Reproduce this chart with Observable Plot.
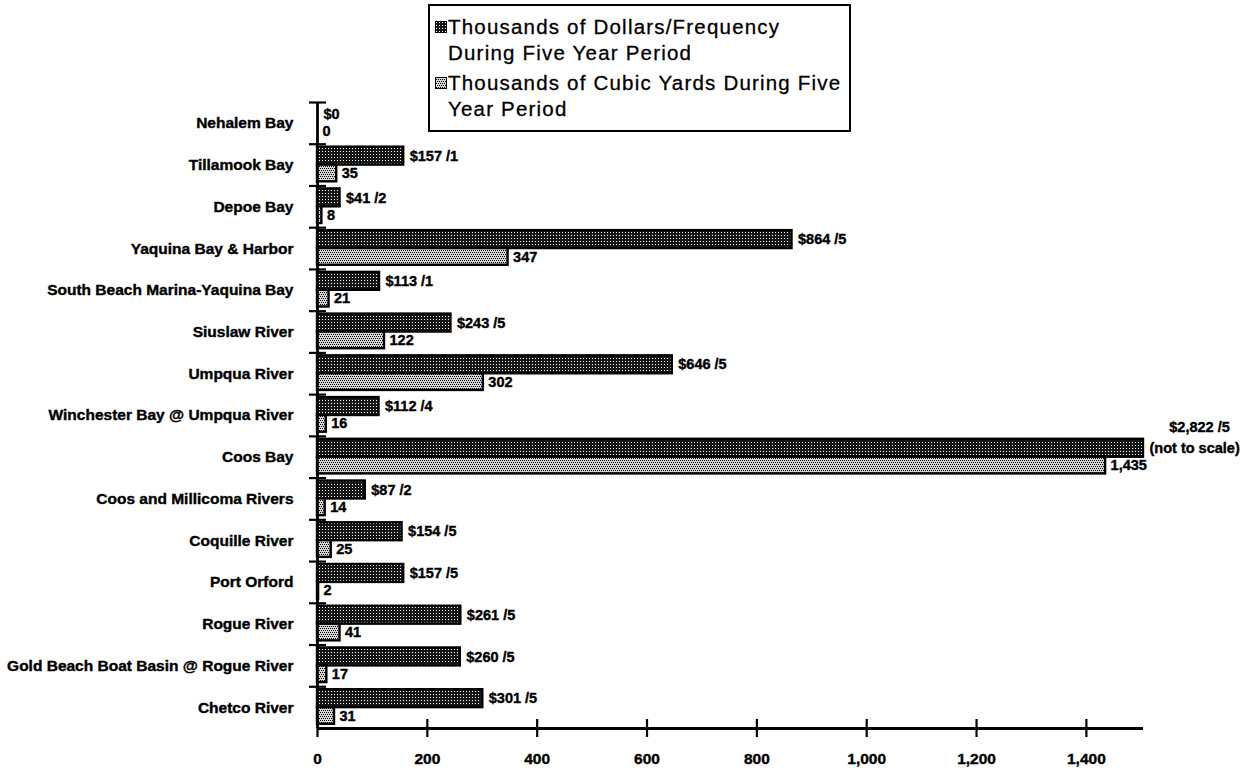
<!DOCTYPE html>
<html>
<head>
<meta charset="utf-8">
<script src="https://cdn.jsdelivr.net/npm/d3@7"></script>
<script src="https://cdn.jsdelivr.net/npm/@observablehq/plot@0.6"></script>
<style>
  html, body { margin: 0; padding: 0; background: #fff; }
  #wrap { position: relative; width: 1256px; height: 776px; overflow: hidden; font-family: "Liberation Sans", Arial, sans-serif; }
  #legend { position: absolute; left: 428px; top: 4px; width: 419px; height: 124px; border: 2px solid #000; background: #fff; box-sizing: content-box; }
  .item { position: absolute; left: 18px; font-size: 20.5px; letter-spacing: 1.2px; line-height: 26px; color: #000; white-space: nowrap; -webkit-text-stroke: 0.3px #000; }
  .sw { position: absolute; left: 5px; width: 12px; height: 12px; }
</style>
</head>
<body>
<svg width="0" height="0" style="position:absolute">
  <defs>
    <pattern id="pDark" width="3" height="3" patternUnits="userSpaceOnUse">
      <rect width="3" height="3" fill="#161616"></rect>
      <rect x="1" y="1" width="1" height="1" fill="#ffffff"></rect>
    </pattern>
    <pattern id="pLight" width="4" height="4" patternUnits="userSpaceOnUse">
      <rect width="4" height="4" fill="#d6d6d6"></rect>
      <rect x="0" y="0" width="1" height="1" fill="#000"></rect>
      <rect x="2" y="0" width="1" height="1" fill="#000"></rect>
      <rect x="1" y="2" width="1" height="1" fill="#000"></rect>
      <rect x="3" y="2" width="1" height="1" fill="#000"></rect>
    </pattern>
  </defs>
</svg>
<div id="wrap">
  <div id="chart"></div>
  <div id="legend">
    <svg class="sw" style="top:15px" viewBox="0 0 12 12"><rect x="0.5" y="0.5" width="11" height="11" fill="url(#pDark)" stroke="#000" stroke-width="1"></rect></svg>
    <div class="item" style="top:8px">Thousands of Dollars/Frequency<br>During Five Year Period</div>
    <svg class="sw" style="top:71px" viewBox="0 0 12 12"><rect x="0.5" y="0.5" width="11" height="11" fill="url(#pLight)" stroke="#000" stroke-width="1"></rect></svg>
    <div class="item" style="top:64px">Thousands of Cubic Yards During Five<br>Year Period</div>
  </div>
</div>
<script>
const categories = [
  "Nehalem Bay", "Tillamook Bay", "Depoe Bay", "Yaquina Bay & Harbor",
  "South Beach Marina-Yaquina Bay", "Siuslaw River", "Umpqua River",
  "Winchester Bay @ Umpqua River", "Coos Bay", "Coos and Millicoma Rivers",
  "Coquille River", "Port Orford", "Rogue River",
  "Gold Beach Boat Basin @ Rogue River", "Chetco River"
];
const dollars    = [0, 157, 41, 864, 113, 243, 646, 112, 2822, 87, 154, 157, 261, 260, 301];
const frequency  = [null, 1, 2, 5, 1, 5, 5, 4, 5, 2, 5, 5, 5, 5, 5];
const cubicYards = [0, 35, 8, 347, 21, 122, 302, 16, 1435, 14, 25, 2, 41, 17, 31];
const xTicks = [0, 200, 400, 600, 800, 1000, 1200, 1400];
const xMax = 1504;
const notToScale = "(not to scale)";

const fmt = d3.format(",");
const rows = categories.map((c, i) => ({i, c, d: dollars[i], f: frequency[i], v: cubicYards[i]}));
const inScale = rows.filter(r => r.d <= xMax);
const overScale = rows.filter(r => r.d > xMax);
const darkLabel = r => r.f == null ? "$" + fmt(r.d) : "$" + fmt(r.d) + " /" + r.f;
const bounds = d3.range(0, categories.length);

const FONT = "Liberation Sans, Arial, sans-serif";
const LS = 14.5;
const heavy = {fontWeight: "bold", fill: "#000", stroke: "#000", strokeWidth: 0.4};

const chart = Plot.plot({
  width: 1256,
  height: 776,
  marginTop: 102,
  marginBottom: 48,
  marginLeft: 317,
  marginRight: 113,
  style: {fontFamily: FONT, background: "transparent"},
  x: {domain: [0, xMax], clamp: true, axis: null},
  y: {domain: [0, categories.length], reverse: true, axis: null},
  marks: [
    Plot.rect(rows, {x1: () => 0, x2: "d", y1: r => r.i + 0.07, y2: r => r.i + 0.5, fill: "url(#pDark)", stroke: "#000", strokeWidth: 2.4}),
    Plot.rect(rows, {x1: () => 0, x2: "v", y1: r => r.i + 0.5, y2: r => r.i + 0.9, fill: "url(#pLight)", stroke: "#000", strokeWidth: 2.4}),
    // axis lines
    Plot.ruleX([0], {x: d => d, y1: () => 0, y2: () => categories.length, stroke: "#000", strokeWidth: 2.8}),
    Plot.ruleY([categories.length], {y: d => d, x1: () => 0, x2: () => xMax, stroke: "#000", strokeWidth: 2.8}),
    // y separators (ticks crossing the axis)
    Plot.ruleY(bounds, {y: d => d, x1: () => 0, x2: () => 0, insetLeft: -8, insetRight: -9, stroke: "#000", strokeWidth: 2.2}),
    // x ticks crossing the axis
    Plot.ruleX(xTicks, {x: d => d, y1: () => categories.length, y2: () => categories.length, insetTop: -9, insetBottom: -9, stroke: "#000", strokeWidth: 2.2}),
    Plot.text(xTicks, {x: d => d, y: () => categories.length, dy: 31, text: d => fmt(d), fontSize: 15.5, ...heavy, style: "letter-spacing:1px"}),
    // category labels
    Plot.text(rows, {x: () => 0, y: r => r.i + 0.5, dx: -24, text: "c", textAnchor: "end", fontSize: 15.5, ...heavy}),
    // value labels
    Plot.text(inScale, {x: "d", y: r => r.i + 0.285, dx: 6, text: darkLabel, textAnchor: "start", fontSize: LS, ...heavy}),
    Plot.text(overScale, {x: "d", y: r => r.i + 0.285, dx: 6, text: () => notToScale, textAnchor: "start", fontSize: LS, ...heavy}),
    Plot.text(overScale, {x: "d", y: r => r.i + 0.285, dx: 56, dy: -21, text: darkLabel, textAnchor: "middle", fontSize: LS, ...heavy}),
    Plot.text(rows, {x: "v", y: r => r.i + 0.7, dx: 5, text: r => fmt(r.v), textAnchor: "start", fontSize: LS, ...heavy})
  ]
});
document.getElementById("chart").appendChild(chart);
</script>
</body>
</html>
